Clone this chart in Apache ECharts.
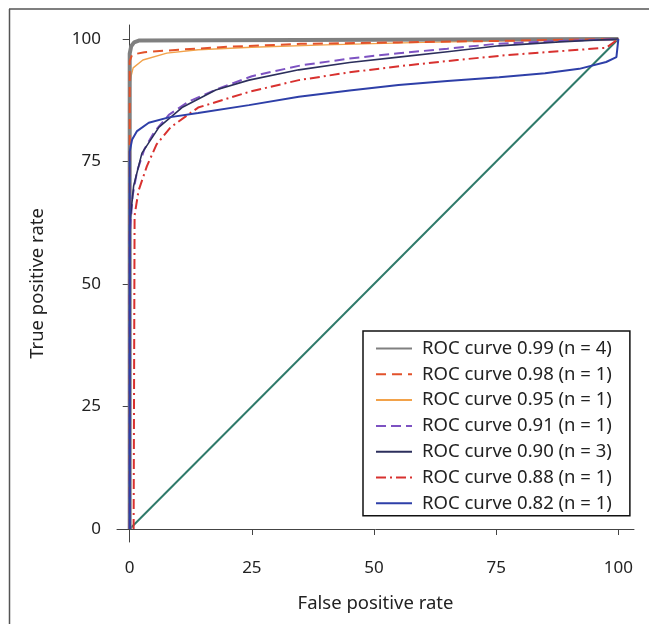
<!DOCTYPE html>
<html>
<head>
<meta charset="utf-8">
<script src="https://cdn.jsdelivr.net/npm/echarts@6/dist/echarts.min.js"></script>
<style>
  html, body { margin: 0; padding: 0; background: #fff; }
  #chart { width: 649px; height: 624px; }
</style>
</head>
<body>
<div id="chart"></div>
<script>
// tick labels
const xTicks = [0, 25, 50, 75, 100]
const yTicks = [0, 25, 50, 75, 100]

// ROC curves, [false positive rate, true positive rate]
const roc099 = [[0, 0], [0, 97], [0.3, 98.5], [0.9, 99.3], [2, 99.7], [100, 100]]
const roc098 = [[0, 0], [0, 95.5], [0.5, 96.8], [3, 97.3], [10, 97.8], [20, 98.4], [35, 99], [55, 99.3], [75, 99.6], [100, 100]]
const roc095 = [[0, 0], [0, 90], [0.3, 92.5], [0.7, 94.1], [2.7, 95.7], [7.6, 97.1], [14, 97.8], [25, 98.3], [40, 98.8], [60, 99.3], [80, 99.7], [100, 100]]
const roc091 = [[0, 0], [0, 60], [0.6, 68], [1.5, 73], [3, 77.5], [5, 81], [8, 84.5], [12, 87.2], [18, 89.8], [25, 92.4], [35, 94.6], [45, 96], [55, 97.1], [65, 98], [75, 99], [88, 99.6], [100, 100]]
const roc090 = [[0, 0], [0, 62], [0.8, 70], [2.5, 76.7], [6, 82], [10.7, 86], [17.6, 89.6], [24.4, 91.6], [34.6, 93.7], [45, 95.2], [55, 96.3], [65, 97.4], [75.6, 98.6], [88, 99.4], [100, 100]]
const roc088 = [[0.8, 0], [1, 64], [1.8, 69], [3.5, 74], [5.5, 78.5], [8.4, 82], [14, 86], [24.4, 89.2], [34.6, 91.6], [45, 93.2], [56.6, 94.6], [67, 95.7], [77, 96.7], [88, 97.5], [97.5, 98.2], [100, 100]]
const roc082 = [[0, 0], [0, 77], [0.5, 79.5], [1.5, 81.2], [3.9, 82.9], [8, 84], [14, 84.9], [24.4, 86.5], [34.6, 88.2], [45, 89.5], [55, 90.6], [65, 91.4], [75.6, 92.2], [85, 93], [92, 93.9], [97.5, 95.3], [99.6, 96.3], [100, 100]]
const chance = [[0, 0], [100, 100]]

const names = [
  'ROC curve 0.99 (n = 4)',
  'ROC curve 0.98 (n = 1)',
  'ROC curve 0.95 (n = 1)',
  'ROC curve 0.91 (n = 1)',
  'ROC curve 0.90 (n = 3)',
  'ROC curve 0.88 (n = 1)',
  'ROC curve 0.82 (n = 1)'
]

const font = '"Noto Sans", "Open Sans", sans-serif'

function curve (name, data, color, width, type) {
  return {
    name: name,
    type: 'line',
    data: data,
    symbol: 'none',
    silent: true,
    lineStyle: { color: color, width: width, type: type },
    itemStyle: { color: color }
  }
}

const chart = echarts.init(document.getElementById('chart'))
chart.setOption({
  animation: false,
  textStyle: { fontFamily: font },
  graphic: [
    // outer frame (open at right and bottom)
    { type: 'line', shape: { x1: 9, y1: 9, x2: 649, y2: 9 }, style: { stroke: '#555', lineWidth: 1.5 } },
    { type: 'line', shape: { x1: 9.5, y1: 9, x2: 9.5, y2: 624 }, style: { stroke: '#555', lineWidth: 1.5 } }
  ],
  grid: { left: 117, right: 15, top: 25, bottom: 82 },
  legend: {
    data: names,
    orient: 'vertical',
    left: 363,
    top: 331,
    padding: [8, 18, 3, 12],
    itemWidth: 36,
    itemHeight: 14,
    itemGap: 6.8,
    borderColor: '#111',
    borderWidth: 1.5,
    // hide the circle marker, keep the line sample
    itemStyle: { opacity: 0 },
    textStyle: { fontSize: 18.5, color: '#222', lineHeight: 18, fontFamily: font, padding: [0, 0, 0, 5] }
  },
  xAxis: {
    type: 'value',
    min: -2.6,
    max: 103.2,
    name: 'False positive rate',
    nameLocation: 'middle',
    nameGap: 52,
    nameTextStyle: { fontSize: 18.5, color: '#222' },
    splitLine: { show: false },
    axisLine: { lineStyle: { color: '#444', width: 1 } },
    axisTick: { customValues: xTicks, length: 6, lineStyle: { color: '#444' } },
    axisLabel: { customValues: xTicks, fontSize: 17, color: '#222', margin: 18 }
  },
  yAxis: {
    type: 'value',
    min: -2.65,
    max: 102.85,
    name: 'True positive rate',
    nameLocation: 'middle',
    nameGap: 70,
    nameTextStyle: { fontSize: 18.5, color: '#222' },
    splitLine: { show: false },
    axisLine: { lineStyle: { color: '#444', width: 1 } },
    axisTick: { customValues: yTicks, length: 7, lineStyle: { color: '#444' } },
    axisLabel: { customValues: yTicks, fontSize: 17, color: '#222', margin: 16 }
  },
  // drawing order: blue/navy verticals sit over the grey one, as in the figure
  series: [
    { type: 'line', data: chance, symbol: 'none', silent: true, lineStyle: { color: '#2f7a6a', width: 2 } },
    curve(names[2], roc095, '#f2a24a', 1.4, 'solid'),
    curve(names[0], roc099, '#808080', 4, 'solid'),
    curve(names[1], roc098, '#e2522b', 2, [10, 6]),
    curve(names[5], roc088, '#d8312f', 2, [10, 4, 2, 4]),
    curve(names[3], roc091, '#7d52c2', 2, [10, 5]),
    curve(names[4], roc090, '#2c2f5c', 1.6, 'solid'),
    curve(names[6], roc082, '#2e3fa8', 2, 'solid')
  ]
})
</script>
</body>
</html>
